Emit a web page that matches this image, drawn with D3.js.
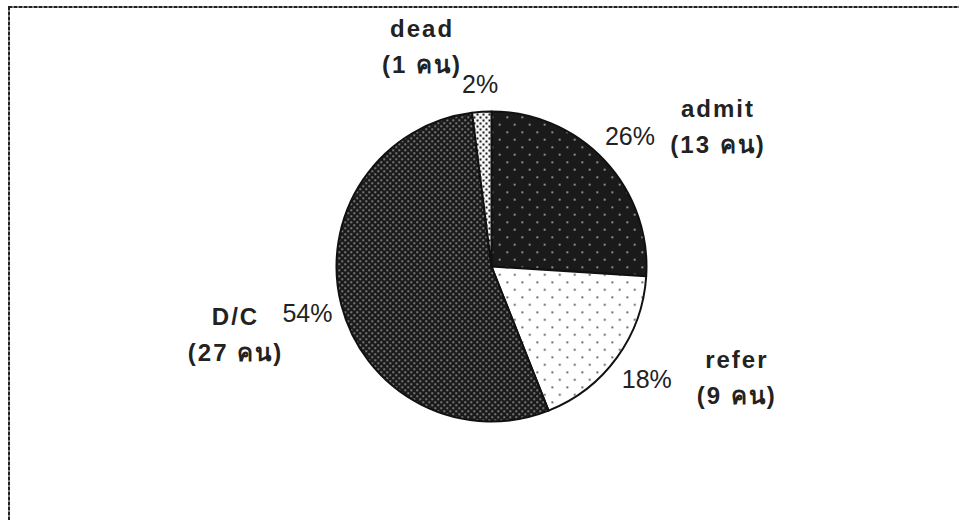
<!DOCTYPE html>
<html>
<head>
<meta charset="utf-8">
<script src="https://cdn.jsdelivr.net/npm/d3@7"></script>
<style>
  html, body { margin: 0; padding: 0; background: #fff; }
  svg { display: block; }
</style>
</head>
<body>
<svg id="chart" width="959" height="520"></svg>
<script>
// ---- data ----
const categories = ["admit", "refer", "D/C", "dead"];
const counts = [13, 9, 27, 1];
const percents = ["26%", "18%", "54%", "2%"];
const countLabels = ["(13 คน)", "(9 คน)", "(27 คน)", "(1 คน)"];

// ---- layout ----
const W = 959, H = 520;
const cx = 491.5, cy = 266.5, R = 155;
const pctRadii = [190, 192, 190, 182];
// name label offsets (first-line baseline) relative to the percentage label anchor
const nameOffsets = [[88, -19], [90, -11], [-72, 11], [-58, -48]];
const lineGap = 36;
const patternIds = ["pAdmit", "pRefer", "pDC", "pDead"];

const svg = d3.select("#chart");
const defs = svg.append("defs");

function dotPattern(id, size, bg, fg, dot) {
  const p = defs.append("pattern").attr("id", id)
    .attr("patternUnits", "userSpaceOnUse")
    .attr("width", size).attr("height", size);
  p.append("rect").attr("width", size).attr("height", size).attr("fill", bg);
  p.append("rect").attr("x", 0).attr("y", 0).attr("width", dot).attr("height", dot).attr("fill", fg);
  p.append("rect").attr("x", size / 2).attr("y", size / 2).attr("width", dot).attr("height", dot).attr("fill", fg);
}
dotPattern("pAdmit", 15, "#1a1a1a", "#e6e6e6", 1.5);
dotPattern("pRefer", 15, "#ffffff", "#1c1c1c", 1.6);
dotPattern("pDC", 6, "#1a1a1a", "#d6d6d6", 1.4);
dotPattern("pDead", 6, "#f6f6f6", "#1c1c1c", 2);

// frame (dotted grey border, extends past right/bottom)
svg.append("rect").attr("x", 9).attr("y", 7).attr("width", W).attr("height", H)
  .attr("fill", "none").attr("stroke", "#808080").attr("stroke-width", 2);
svg.append("rect").attr("x", 9).attr("y", 7).attr("width", W).attr("height", H)
  .attr("fill", "none").attr("stroke", "#222").attr("stroke-width", 2)
  .attr("stroke-dasharray", "3,2");

const pie = d3.pie().sort(null).value(d => d)(counts);
const arc = d3.arc().innerRadius(0).outerRadius(R);
const labelPos = (d, i) => d3.arc().innerRadius(pctRadii[i]).outerRadius(pctRadii[i]).centroid(d);

const g = svg.append("g").attr("transform", `translate(${cx},${cy})`);
g.selectAll("path.slice").data(pie).enter().append("path")
  .attr("class", "slice")
  .attr("d", arc)
  .attr("fill", (d, i) => `url(#${patternIds[i]})`)
  .attr("stroke", "#111").attr("stroke-width", 2)
  .attr("stroke-linejoin", "round");

// percentage labels
g.selectAll("text.pct").data(pie).enter().append("text")
  .attr("class", "pct")
  .attr("x", (d, i) => labelPos(d, i)[0])
  .attr("y", (d, i) => labelPos(d, i)[1] + 8.5)
  .attr("text-anchor", "middle")
  .attr("font-family", "'Liberation Sans', Arial, sans-serif")
  .attr("font-size", 25)
  .attr("fill", "#222")
  .text((d, i) => percents[i]);

// category labels (two lines)
const names = g.selectAll("text.name").data(pie).enter().append("text")
  .attr("class", "name")
  .attr("text-anchor", "middle")
  .attr("font-family", "'Liberation Sans', Arial, 'Noto Sans', sans-serif")
  .attr("font-weight", "bold")
  .attr("font-size", 24)
  .attr("letter-spacing", 2)
  .attr("fill", "#222")
  .attr("transform", (d, i) => {
    const c = labelPos(d, i);
    return `translate(${c[0] + nameOffsets[i][0]},${c[1] + nameOffsets[i][1]})`;
  });
names.append("tspan").attr("x", 0).attr("y", 0).text((d, i) => categories[i]);
names.append("tspan").attr("x", 0).attr("y", lineGap).text((d, i) => countLabels[i]);
</script>
</body>
</html>
